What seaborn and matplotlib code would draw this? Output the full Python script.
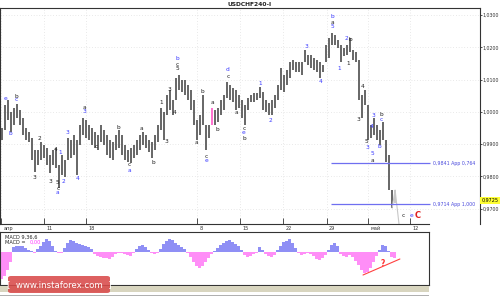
import numpy as np
import pandas as pd
import matplotlib
matplotlib.use("Agg")
import matplotlib.pyplot as plt
import matplotlib.transforms as mtrans
from matplotlib.patches import FancyBboxPatch, Rectangle
from matplotlib.ticker import FuncFormatter
import seaborn as sns

# ---------------- data ----------------
title = "USDCHF240-I"

bar_high = [
    0.9950, 1.0021, 1.0037, 1.0000, 1.0012, 1.0024, 1.0006, 0.9981, 0.9950, 0.9938,
    0.9919, 0.9882, 0.9882, 0.9907, 0.9898, 0.9888, 0.9867, 0.9882, 0.9888, 0.9836,
    0.9867, 0.9851, 0.9919, 0.9913, 0.9929, 0.9913, 0.9959, 0.9981, 0.9975, 0.9959,
    0.9950, 0.9938, 0.9929, 0.9959, 0.9944, 0.9929, 0.9913, 0.9907, 0.9929, 0.9944,
    0.9929, 0.9898, 0.9882, 0.9888, 0.9898, 0.9913, 0.9929, 0.9938, 0.9929, 0.9913,
    0.9907, 0.9929, 0.9959, 1.0012, 1.0000, 1.0052, 1.0068, 1.0037, 1.0105, 1.0114,
    1.0099, 1.0099, 1.0083, 1.0068, 1.0037, 0.9975, 0.9990, 1.0052, 0.9959, 0.9959,
    1.0012, 1.0006, 1.0012, 1.0037, 1.0052, 1.0093, 1.0083, 1.0074, 1.0068, 1.0052,
    1.0037, 1.0021, 1.0043, 1.0052, 1.0058, 1.0058, 1.0077, 1.0062, 1.0037, 1.0028,
    1.0037, 1.0052, 1.0083, 1.0136, 1.0114, 1.0130, 1.0154, 1.0161, 1.0154, 1.0154,
    1.0154, 1.0192, 1.0176, 1.0176, 1.0167, 1.0161, 1.0154, 1.0145, 1.0207, 1.0229,
    1.0244, 1.0238, 1.0223, 1.0207, 1.0198, 1.0207, 1.0229, 1.0192, 1.0185, 1.0161,
    1.0052, 1.0068, 1.0021, 0.9959, 0.9981, 0.9959, 0.9944, 0.9969, 0.9913, 0.9867,
    0.9758, 0.9758,
]
bar_low = [
    0.9913, 0.9944, 0.9975, 0.9938, 0.9959, 0.9981, 0.9959, 0.9929, 0.9913, 0.9907,
    0.9851, 0.9814, 0.9836, 0.9851, 0.9857, 0.9836, 0.9811, 0.9836, 0.9826, 0.9764,
    0.9805, 0.9798, 0.9851, 0.9857, 0.9867, 0.9805, 0.9898, 0.9929, 0.9919, 0.9913,
    0.9898, 0.9888, 0.9882, 0.9907, 0.9898, 0.9867, 0.9857, 0.9851, 0.9882, 0.9888,
    0.9867, 0.9851, 0.9845, 0.9842, 0.9857, 0.9867, 0.9882, 0.9898, 0.9888, 0.9876,
    0.9857, 0.9882, 0.9907, 0.9944, 0.9913, 0.9990, 1.0006, 0.9990, 1.0037, 1.0068,
    1.0062, 1.0052, 1.0037, 1.0006, 0.9959, 0.9913, 0.9929, 0.9959, 0.9882, 0.9919,
    0.9959, 0.9959, 0.9969, 0.9990, 1.0006, 1.0043, 1.0037, 1.0031, 1.0006, 1.0012,
    0.9981, 0.9959, 1.0006, 1.0031, 1.0031, 1.0037, 1.0043, 1.0006, 1.0000, 0.9990,
    0.9990, 1.0012, 1.0037, 1.0068, 1.0062, 1.0083, 1.0105, 1.0130, 1.0123, 1.0123,
    1.0114, 1.0154, 1.0145, 1.0136, 1.0130, 1.0123, 1.0105, 1.0123, 1.0154, 1.0167,
    1.0207, 1.0207, 1.0198, 1.0154, 1.0173, 1.0176, 1.0185, 1.0161, 1.0154, 1.0037,
    0.9981, 1.0021, 0.9913, 0.9919, 0.9929, 0.9913, 0.9898, 0.9913, 0.9845, 0.9758,
    0.9702, 0.9718,
]
macd_hist = [
    -27, -24, -18, -10, 5, 6, 6, 6, 4, 2,
    1, -1, 3, 6, 10, 13, 11, 6, 1, -1,
    -1, 4, 9, 12, 11, 9, 8, 7, 6, 5,
    3, -2, -4, -5, -6, -6, -7, -5, -2, -1,
    -1, -2, -3, -4, -1, 3, 6, 7, 5, 2,
    -1, -2, -1, 3, 8, 11, 13, 12, 9, 7,
    5, 3, -1, -5, -10, -14, -16, -14, -10, -6,
    -2, 1, 4, 7, 9, 11, 12, 10, 8, 6,
    2, -3, -5, -4, -2, -1, 5, 2, -2, -4,
    -5, -3, 2, 6, 10, 11, 13, 9, 4, -1,
    -3, -2, -1, -2, -4, -7, -8, -6, -3, 2,
    7, 9, 6, -2, -4, -5, -3, -5, -9, -13,
    -18, -21, -20, -16, -10, -4, 2, 7, 6, 1,
    -5, -6,
]

# projection line after the last bar (bar index, price)
proj_idx = [130.2, 131.2, 132.5]
proj_price = [0.9702, 0.9758, 0.9653]

price_ticks = [1.03, 1.02, 1.01, 1.00, 0.99, 0.98, 0.97]
last_price = 0.9725

date_tick_pos = [-0.2, 14.3, 28.2, 65.1, 79.5, 93.9, 108.4, 122.3, 136.2]
date_tick_labels = ["апр", "11", "18", "8", "15", "22", "29", "май", "12"]

fib_levels = [0.9841, 0.9714]
fib_ratios = ["0,764", "1,000"]
fib_start, fib_end = 109.8, 142.8

BLUE = "#3a3aff"
BLACK = "#222222"
RED = "#e02020"
wave_labels = [
    (1.5, 1.0040, "e", BLUE), (2.8, 0.9932, "b", BLUE), (4.8, 1.0049, "b", BLACK),
    (4.8, 1.0037, "c", BLUE), (10.8, 0.9798, "3", BLACK), (12.8, 0.9919, "2", BLACK),
    (16.2, 0.9786, "3", BLACK), (18.0, 0.9885, "4", BLACK), (18.8, 0.9780, "5", BLACK),
    (18.8, 0.9764, "c", BLACK), (18.8, 0.9749, "a", BLUE), (19.5, 0.9873, "1", BLUE),
    (20.8, 0.9786, "2", BLUE), (21.8, 0.9935, "3", BLUE), (25.2, 0.9795, "4", BLUE),
    (27.5, 1.0015, "a", BLACK), (27.5, 1.0000, "3", BLUE), (31.5, 0.9894, "c", BLACK),
    (38.8, 0.9953, "b", BLACK), (42.5, 0.9838, "c", BLACK), (42.5, 0.9818, "a", BLUE),
    (46.8, 0.9950, "a", BLACK), (50.5, 0.9842, "b", BLACK), (53.2, 1.0028, "1", BLACK),
    (55.0, 0.9907, "3", BLACK), (55.8, 1.0068, "3", BLACK), (57.8, 0.9997, "4", BLACK),
    (58.5, 1.0164, "b", BLUE), (58.5, 1.0148, "c", BLACK), (58.5, 1.0133, "5", BLACK),
    (65.0, 0.9904, "a", BLACK), (66.8, 1.0062, "b", BLACK), (68.2, 0.9863, "c", BLACK),
    (68.2, 0.9848, "e", BLUE), (70.2, 1.0028, "a", BLACK), (71.8, 0.9947, "b", BLACK),
    (75.5, 1.0130, "d", BLUE), (75.5, 1.0111, "c", BLACK), (78.2, 0.9997, "a", BLACK),
    (80.8, 0.9950, "c", BLACK), (80.8, 0.9935, "e", BLUE), (80.8, 0.9919, "b", BLACK),
    (86.2, 1.0089, "1", BLUE), (89.8, 0.9972, "2", BLUE), (101.5, 1.0204, "3", BLUE),
    (106.5, 1.0093, "4", BLUE), (110.2, 1.0294, "b", BLUE), (110.2, 1.0278, "a", BLACK),
    (110.2, 1.0263, "5", BLUE), (112.5, 1.0133, "1", BLUE), (115.0, 1.0226, "2", BLUE),
    (116.4, 1.0223, "b", BLACK), (115.5, 1.0151, "1", BLACK), (118.8, 0.9975, "3", BLACK),
    (120.2, 1.0080, "4", BLACK), (121.8, 0.9907, "5", BLACK), (121.8, 0.9891, "3", BLUE),
    (123.2, 0.9956, "4", BLUE), (123.8, 0.9990, "3", BLUE), (123.5, 0.9870, "5", BLUE),
    (123.5, 0.9851, "a", BLACK), (125.8, 0.9894, "b", BLUE), (126.5, 0.9993, "b", BLACK),
    (126.5, 0.9978, "c", BLUE), (133.8, 0.9678, "c", BLACK), (136.5, 0.9678, "e", BLUE),
]
big_label = (138.8, 0.9678, "C", RED)

# red divergence line in MACD panel
div_idx = [120.5, 132.8]
div_val = [-23.3, -7.3]
div_mark = (127.2, -11.3, "?")

# ---------------- figure ----------------
sns.set_theme(style="white")
plt.rcParams["font.family"] = ["DejaVu Sans"]

W, H = 500, 299
fig = plt.figure(figsize=(W / 100, H / 100), dpi=100)
fig.patch.set_facecolor("white")

def fx(px):
    return px / W

def fy(py):
    return 1 - py / H

ax = fig.add_axes([0, fy(224), fx(480), (224 - 8) / H])
axm = fig.add_axes([0, fy(285), fx(429), (285 - 232) / H])

idx = np.arange(len(bar_high))
n = len(bar_high)

# price bars
colors = ["#5a5a5a"] * n
colors[70] = "#ff66cc"
colors[131] = "#c4c4c4"
ax.vlines(idx, bar_low, bar_high, colors=colors, linewidth=1.3)

# projection line
sns.lineplot(x=proj_idx, y=proj_price, ax=ax, color="#c8c8c8", linewidth=0.8)

# fib levels
ax.hlines(fib_levels, fib_start, fib_end, colors="#6f6ff0", linewidth=0.9)
for lvl, r in zip(fib_levels, fib_ratios):
    ax.text(fib_end + 1.0, lvl, f"{lvl:.4f}".replace(".", ",") + " App " + r,
            fontsize=3.4, color="#4b4bdd", va="center", ha="left")

for x, y, t, c in wave_labels:
    ax.text(x, y, t, fontsize=4.2, color=c, ha="center", va="center")
bx, by, bt, bc = big_label
ax.text(bx, by, bt, fontsize=6, color=bc, ha="center", va="center", fontweight="bold")

ax.set_xlim(-0.5, 159.5)
ax.set_ylim(0.96529, 1.03217)

# axes styling
for s in ax.spines.values():
    s.set_color("#333333")
    s.set_linewidth(0.8)
    s.set_visible(True)
ax.spines["bottom"].set_bounds(-0.5, 142.5)
ax.yaxis.tick_right()
ax.set_yticks(price_ticks)
ax.yaxis.set_major_formatter(FuncFormatter(lambda v, p: f"{v:.4f}".replace(".", ",")))
ax.tick_params(axis="y", direction="out", length=1.5, width=0.6, labelsize=3.4, pad=0.6,
               colors="#333333", right=True, left=False)
ax.set_xticks(date_tick_pos)
ax.set_xticklabels([])
ax.tick_params(axis="x", direction="in", length=4, width=0.6, colors="#333333", bottom=True)
ax.grid(True, linestyle=(0, (1, 3)), color="#d4d4d4", linewidth=0.5)
ax.set_xlabel("")
ax.set_ylabel("")

trans = mtrans.blended_transform_factory(ax.transData, ax.transAxes)
for pos, lab in zip(date_tick_pos, date_tick_labels):
    ax.text(pos + 0.8, -0.008, lab, transform=trans, fontsize=3.6, color="#333333",
            ha="left", va="top")

# current price box
ytrans = mtrans.blended_transform_factory(ax.transAxes, ax.transData)
ax.text(1.003, last_price, f"{last_price:.4f}".replace(".", ","), transform=ytrans,
        fontsize=3.5, color="black", ha="left", va="center",
        bbox=dict(boxstyle="square,pad=0.25", fc="#ffff33", ec="none"))

fig.text(0.5, fy(4.5), title, fontsize=4.3, fontweight="bold", ha="center", va="center",
         color="#222222")

# ---------------- MACD panel ----------------
df = pd.DataFrame({"bar": idx, "macd": macd_hist})
df["sign"] = np.where(df["macd"] >= 0, "pos", "neg")
sns.barplot(data=df, x="bar", y="macd", hue="sign", native_scale=True, dodge=False,
            palette={"pos": "#8f8ff5", "neg": "#ff8ef7"}, saturation=1, errorbar=None,
            width=0.8, linewidth=0, legend=False, ax=axm)
sns.lineplot(x=div_idx, y=div_val, ax=axm, color="#ff4040", linewidth=0.8)
axm.text(div_mark[0], div_mark[1], div_mark[2], color="#ff3030", fontsize=5.5,
         fontweight="bold", ha="center", va="center")
axm.set_xlim(-0.5, 142.5)
axm.set_ylim(-33.3, 19.7)
axm.set_xticks([])
axm.set_yticks([])
axm.set_xlabel("")
axm.set_ylabel("")
for s in axm.spines.values():
    s.set_color("#333333")
    s.set_linewidth(0.8)
    s.set_visible(True)
axm.text(0.012, 0.905, "MACD 9,36,6", transform=axm.transAxes, fontsize=3.6,
         color="#222222", ha="left", va="center")
axm.text(0.012, 0.80, "MACD = ", transform=axm.transAxes, fontsize=3.6,
         color="#222222", ha="left", va="center")
axm.text(0.068, 0.80, "0,00", transform=axm.transAxes, fontsize=3.6,
         color="#ff33ff", ha="left", va="center")

# bottom strip
fig.patches.append(Rectangle((0, fy(292)), fx(429), 6 / H, transform=fig.transFigure,
                             facecolor="#d8d5bf", edgecolor="none", zorder=0))
fig.patches.append(Rectangle((0, fy(296)), fx(429), 0.8 / H, transform=fig.transFigure,
                             facecolor="#b0b0b0", edgecolor="none", zorder=0))

# watermark
wm = FancyBboxPatch((fx(8), fy(293)), fx(102), 17 / H, transform=fig.transFigure,
                    boxstyle="round,pad=0,rounding_size=0.006", facecolor="#d94a4a",
                    edgecolor="none", alpha=0.88, zorder=5)
fig.patches.append(wm)
fig.text(fx(59), fy(284.5), "[  www.instaforex.com  ]", fontsize=6.2, color="white",
         ha="center", va="center", zorder=6)

fig.savefig("out.png", dpi=100)
